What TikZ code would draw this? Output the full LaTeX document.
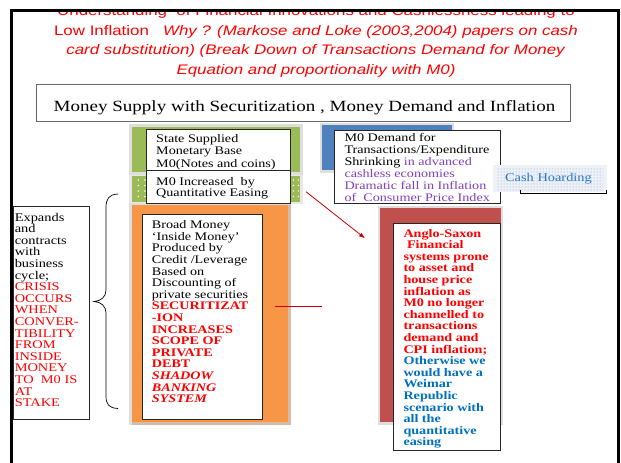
\documentclass[tikz,border=0pt]{standalone}
\usepackage{fontspec}
\setmainfont{Liberation Serif}[FakeStretch=1.22]
\newfontfamily\titlefont{Liberation Sans}[FakeStretch=1.22]
\usetikzlibrary{patterns,arrows.meta}

\definecolor{slidered}{RGB}{255,0,0}
\definecolor{greenbox}{RGB}{155,187,89}
\definecolor{bluebox}{RGB}{79,129,189}
\definecolor{orangebox}{RGB}{247,150,70}
\definecolor{redbox}{RGB}{192,80,77}
\definecolor{purpletext}{RGB}{128,64,190}
\definecolor{bluetext}{RGB}{0,112,192}
\definecolor{arrowred}{RGB}{200,0,0}
\definecolor{rimgray}{RGB}{222,222,222}
\definecolor{rimtan}{RGB}{214,188,168}
\definecolor{cashbg}{RGB}{238,241,246}
\definecolor{cashdot}{RGB}{120,160,215}
\definecolor{cashblue}{RGB}{40,120,200}

\begin{document}
\begin{tikzpicture}[x=1pt,y=-1pt,
  titleline/.style={inner sep=0pt, anchor=base, text=slidered,
    font=\titlefont\fontsize{13.85}{16}\selectfont},
  boxtext/.style={inner sep=0pt, anchor=north west, align=left},
  whitebox/.style={draw=black!85, line width=0.9pt, fill=white},
  link/.style={draw=arrowred, line width=0.8pt}]

\useasboundingbox (0,0) rectangle (621,463);
\fill[white] (0,0) rectangle (621,463);

% heading, cut off by the top of the frame
\begin{scope}
  \clip (13,11.8) rectangle (616.8,84);
  \node[titleline] (titleA) at (316,15.2)
    {Understanding\ \ of Financial Innovations and Cashlessness leading to};
  \node[titleline] (titleB) at (316,35)
    {Low Inflation\ \ \ \textit{Why ? (Markose and Loke (2003,2004) papers on cash}};
  \node[titleline] (titleC) at (316,54.5)
    {\textit{card substitution) (Break Down of Transactions Demand for Money}};
  \node[titleline] (titleD) at (316,74)
    {\textit{Equation and proportionality with M0)}};
\end{scope}

% slide frame
\draw[line width=2.8pt] (11.5,463) -- (11.5,10.4) -- (618.2,10.4) -- (618.2,463);

% subtitle
\draw[draw=black!60, line width=0.9pt] (36,84.5) rectangle (570.5,121);
\node[inner sep=0pt, anchor=base, font=\fontsize{15.6}{18}\selectfont]
  (subtitle) at (304.5,111.7)
  {Money Supply with Securitization , Money Demand and Inflation};

% green block: monetary base
\fill[rimgray] (128.5,124.2) rectangle (303,174.5);
\fill[greenbox] (131.7,126.7) rectangle (300,172);
\fill[rimgray!70] (129,174.5) rectangle (302.5,204);
\fill[greenbox] (131.7,176) rectangle (300,201.7);
\foreach \dx in {138.3,145,293.3,298.3}
  \foreach \dy in {180,185.5,191,196.5}
    \fill[white] (\dx,\dy) circle (0.8);

% blue block: money demand
\fill[rimgray] (319.5,122.8) rectangle (454.3,172.5);
\fill[bluebox] (321.7,125) rectangle (451.7,170);

% orange block: broad money
\fill[rimgray] (129.3,202.8) rectangle (290.8,425.3);
\fill[rimtan] (131.7,205) rectangle (290.8,425.3);
\fill[orangebox] (131.7,205) rectangle (287.5,421.7);

% red block: asset price inflation
\fill[rimgray] (377.5,206) rectangle (503.3,424.5);
\fill[redbox] (380,208.3) rectangle (500.5,421.7);

% text boxes
\draw[whitebox] (146.7,129.3) rectangle (290,170);
\draw[whitebox] (146.7,170) rectangle (290,203.3);
\draw[whitebox] (142.7,214.3) rectangle (262.7,419);
\draw[whitebox] (334.3,130) rectangle (500,203.3);
\draw[whitebox] (393.3,223.3) rectangle (500,450);
\draw[whitebox] (13.3,206.5) rectangle (89.3,419.3);

\node[boxtext, font=\fontsize{11.6}{12.2}\selectfont] (base) at (156,134.4)
  {State Supplied\\Monetary Base\\M0(Notes and coins)};
\node[boxtext, font=\fontsize{11.6}{11}\selectfont] (qe) at (156,176.8)
  {M0 Increased\ \ by\\Quantitative Easing};
\node[boxtext, font=\fontsize{11.6}{12}\selectfont] (demand) at (344.3,133.4)
  {M0 Demand for\\Transactions/Expenditure\\Shrinking \textcolor{purpletext}{in advanced}\\
   \textcolor{purpletext}{cashless economies}\\
   \textcolor{purpletext}{Dramatic fall in Inflation}\\
   \textcolor{purpletext}{of\ \ Consumer Price Index}};
\node[boxtext, font=\fontsize{11.8}{11.6}\selectfont] (cycle) at (14.6,212.8)
  {Expands\\and\\contracts\\with\\business\\cycle;\\
   \textcolor{slidered}{CRISIS}\\\textcolor{slidered}{OCCURS}\\
   \textcolor{slidered}{WHEN}\\\textcolor{slidered}{CONVER-}\\
   \textcolor{slidered}{TIBILITY}\\\textcolor{slidered}{FROM}\\
   \textcolor{slidered}{INSIDE}\\\textcolor{slidered}{MONEY}\\
   \textcolor{slidered}{TO\ \ M0 IS}\\\textcolor{slidered}{AT}\\
   \textcolor{slidered}{STAKE}};
\node[boxtext, font=\fontsize{11.6}{11.6}\selectfont] (broad) at (151.7,220.4)
  {Broad Money\\‘Inside Money’\\Produced by\\Credit /Leverage\\Based on\\
   Discounting of\\private securities\\
   \textcolor{slidered}{\bfseries SECURITIZAT}\\\textcolor{slidered}{\bfseries -ION}\\
   \textcolor{slidered}{\bfseries INCREASES}\\\textcolor{slidered}{\bfseries SCOPE OF}\\
   \textcolor{slidered}{\bfseries PRIVATE}\\\textcolor{slidered}{\bfseries DEBT}\\
   \textcolor{slidered}{\bfseries\itshape SHADOW}\\
   \textcolor{slidered}{\bfseries\itshape BANKING}\\
   \textcolor{slidered}{\bfseries\itshape SYSTEM}};
\node[boxtext, font=\bfseries\fontsize{11.6}{11.6}\selectfont] (anglo) at (403.3,228.8)
  {\textcolor{slidered}{Anglo-Saxon}\\\textcolor{slidered}{\ Financial}\\
   \textcolor{slidered}{systems prone}\\\textcolor{slidered}{to asset and}\\
   \textcolor{slidered}{house price}\\\textcolor{slidered}{inflation as}\\
   \textcolor{slidered}{M0 no longer}\\\textcolor{slidered}{channelled to}\\
   \textcolor{slidered}{transactions}\\\textcolor{slidered}{demand and}\\
   \textcolor{slidered}{CPI inflation;}\\
   \textcolor{bluetext}{Otherwise we}\\\textcolor{bluetext}{would have a}\\
   \textcolor{bluetext}{Weimar}\\\textcolor{bluetext}{Republic}\\
   \textcolor{bluetext}{scenario with}\\\textcolor{bluetext}{all the}\\
   \textcolor{bluetext}{quantitative}\\\textcolor{bluetext}{easing}};

% cash hoarding tag
\fill[cashbg] (492.7,165) rectangle (606.5,192.3);
\fill[pattern=dots, pattern color=cashdot] (496.7,168) rectangle (603,190);
\draw[line width=0.9pt] (520.7,189.8) -- (520.7,193.2) -- (606,193.2) -- (606,189.8);
\node[inner sep=0pt, text=cashblue, font=\fontsize{11.8}{13}\selectfont]
  (hoard) at (548.5,178.8) {Cash Hoarding};

% bracket grouping the broad money block
\draw[line width=0.7pt] (118,194) .. controls (108.5,194.5) and (106,199) .. (106,208)
  -- (106,290) .. controls (106,297) and (101,301) .. (94,301.5)
  .. controls (101,302) and (106,306) .. (106,313)
  -- (106,396) .. controls (106,404) and (108.5,408) .. (118,408.5);

% red connectors
\coordinate (qeout) at (306,191.7);
\coordinate (aim) at (365,238.3);
\coordinate (secout) at (275,306.7);
\coordinate (secend) at (322,306.7);
\draw[link, -{Latex[length=6pt,width=4.5pt]}] (qeout) -- (aim);
\draw[link] (secout) -- (secend);

\end{tikzpicture}
\end{document}
